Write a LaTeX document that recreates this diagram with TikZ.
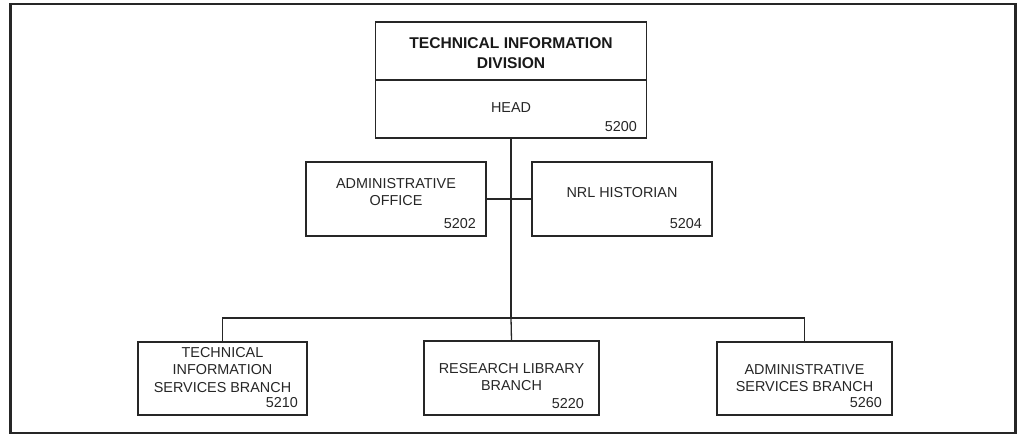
\documentclass[tikz,border=0pt]{standalone}
\usepackage{fontspec}
\setmainfont{Liberation Sans}
\begin{document}
\begin{tikzpicture}[x=1pt,y=-1pt,
  box/.style={draw=black!85, line width=1.3pt, rectangle, inner sep=0pt},
  txt/.style={text=black!85, align=center, inner sep=0pt, font=\fontsize{14.4}{17.5}\selectfont},
  ttl/.style={text=black!90, align=center, inner sep=0pt, font=\bfseries\fontsize{15.6}{20}\selectfont},
  num/.style={text=black!85, anchor=east, inner sep=0pt, font=\fontsize{14.4}{17.5}\selectfont},
  conn/.style={draw=black!85, line width=1.3pt}]
\useasboundingbox (0,0) rectangle (1018,435);
\draw[draw=black!85, line width=2.7pt] (10.3,4) rectangle (1015.3,433);
% top box
\node[box, minimum width=271pt, minimum height=58pt] (topa) at (511,51) {};
\node[box, minimum width=271pt, minimum height=58pt] (topb) at (511,109) {};
\node[ttl] (topt) at (511,53) {TECHNICAL INFORMATION\\DIVISION};
\node[txt] (head) at (511,108) {HEAD};
\node[num] (n5200) at (637,127) {5200};
% middle boxes
\node[box, minimum width=180pt, minimum height=74pt] (ao) at (396,199) {};
\node[txt] (aot) at (396,192) {ADMINISTRATIVE\\OFFICE};
\node[num] (n5202) at (476,224) {5202};
\node[box, minimum width=180pt, minimum height=74pt] (nrl) at (622,199) {};
\node[txt] (nrlt) at (622,193) {NRL HISTORIAN};
\node[num] (n5204) at (702,224) {5204};
% bottom boxes
\node[box, minimum width=169pt, minimum height=73pt] (b1) at (222.5,378.5) {};
\node[txt] (b1t) at (222.5,370) {TECHNICAL\\INFORMATION\\SERVICES BRANCH};
\node[num] (n5210) at (298,403) {5210};
\node[box, minimum width=175pt, minimum height=74pt] (b2) at (511.5,378) {};
\node[txt] (b2t) at (511.5,377) {RESEARCH LIBRARY\\BRANCH};
\node[num] (n5220) at (584,404) {5220};
\node[box, minimum width=175pt, minimum height=73pt] (b3) at (804.5,378.5) {};
\node[txt] (b3t) at (804.5,378) {ADMINISTRATIVE\\SERVICES BRANCH};
\node[num] (n5260) at (882,403) {5260};
% connectors
\coordinate (j2) at (511,318);
\draw[conn] (topb.south) -- (j2);
\draw[conn] (ao.east) -- (nrl.west);
\draw[conn] (b1.north) |- (j2) -| (b3.north);
\draw[conn] (j2) -- (b2.north);
\end{tikzpicture}
\end{document}
